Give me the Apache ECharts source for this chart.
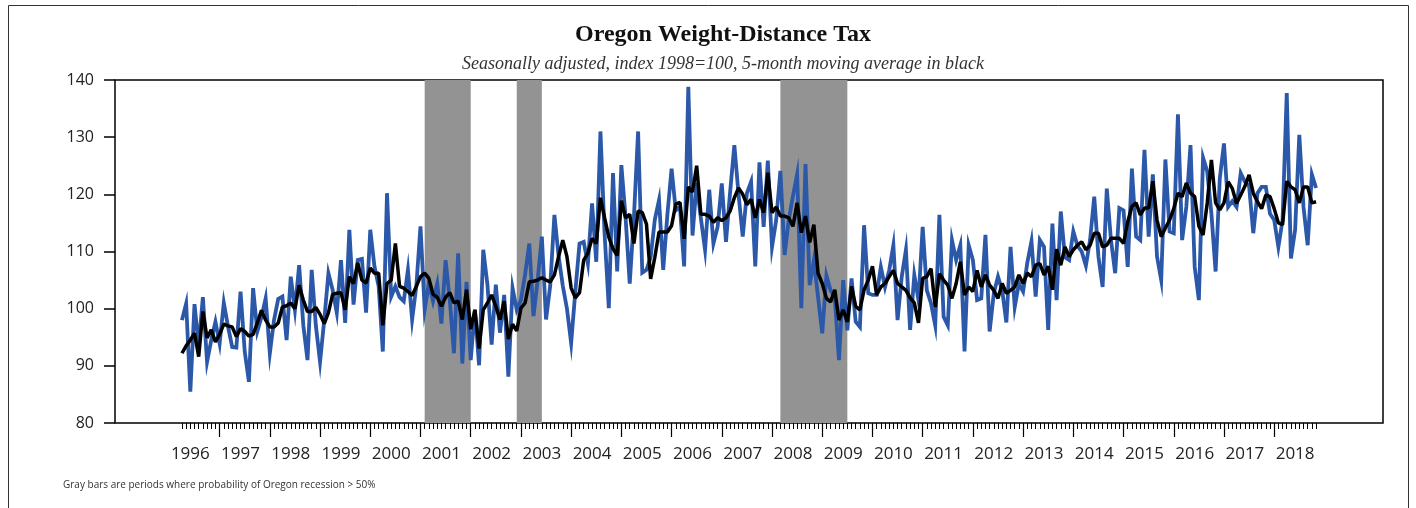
<!DOCTYPE html>
<html>
<head>
<meta charset="utf-8">
<script src="https://cdn.jsdelivr.net/npm/echarts@6/dist/echarts.min.js"></script>
<style>
  html, body { margin: 0; padding: 0; background: #fff; }
  #chart { width: 1416px; height: 508px; }
</style>
</head>
<body>
<div id="chart"></div>
<script>
// monthly index, Apr 1996 .. Nov 2018
var startYear = 1996, startMonth = 4;

var taxIndex = [
  98.0, 100.9, 85.5, 100.8, 93.5, 102.0, 90.7, 94.5, 97.7,
  93.9, 101.0, 96.9, 93.3, 93.2, 103.0, 92.5, 87.2, 103.6, 96.0, 98.5, 101.8,
  92.2, 98.0, 101.7, 102.1, 94.5, 105.6, 99.8, 107.6, 97.1, 91.0, 106.8, 97.0,
  90.7, 98.0, 106.2, 103.3, 99.3, 108.5, 97.5, 113.8, 100.7, 108.5, 108.7, 99.3,
  113.8, 107.4, 103.9, 92.5, 120.2, 102.1, 103.9, 102.0, 101.3, 106.8, 98.1, 103.9,
  114.4, 99.8, 104.4, 101.3, 104.4, 97.4, 108.5, 101.5, 92.2, 109.7, 90.4, 104.7,
  91.0, 99.8, 90.1, 110.3, 104.2, 93.7, 104.2, 95.8, 102.4, 88.1, 103.6, 99.8,
  101.5, 106.0, 111.4, 98.7, 105.0, 112.6, 98.1, 104.0, 116.4, 109.2, 104.0, 100.0,
  94.0, 103.0, 111.4, 111.7, 107.9, 118.4, 108.2, 131.0, 113.0, 100.1, 123.7, 106.5,
  125.1, 116.0, 104.4, 116.0, 131.0, 106.3, 106.8, 109.0, 115.6, 119.0, 106.8, 116.5,
  124.5, 117.2, 117.8, 107.4, 138.8, 112.8, 122.0, 115.8, 110.3, 120.8, 111.4, 114.3,
  121.9, 111.7, 120.5, 128.6, 120.0, 112.6, 120.2, 122.2, 107.4, 125.6, 114.3, 125.9,
  110.8, 115.5, 124.1, 109.4, 115.5, 119.7, 123.5, 100.1, 125.3, 104.1, 108.5, 102.0,
  95.7, 105.8, 103.2, 102.0, 91.0, 105.0, 96.2, 105.3, 97.7, 96.8, 114.6, 102.7,
  102.4, 102.4, 107.3, 103.8, 106.7, 111.1, 98.0, 105.6, 110.3, 96.3, 105.9, 101.5,
  114.3, 103.2, 100.9, 97.1, 116.4, 98.6, 97.1, 112.0, 108.5, 111.1, 92.5, 111.1,
  108.5, 101.5, 101.8, 112.9, 96.0, 102.7, 105.6, 103.2, 97.6, 110.8, 100.3, 104.4,
  103.0, 108.0, 111.8, 102.1, 112.0, 110.8, 96.3, 114.9, 101.5, 117.0, 109.0, 108.5,
  113.5, 111.0, 110.0, 107.5, 112.0, 119.6, 109.1, 103.8, 121.0, 112.0, 106.2, 117.6,
  117.2, 107.3, 124.5, 112.6, 112.0, 127.8, 112.6, 123.5, 109.1, 105.0, 126.1, 113.5,
  113.2, 134.0, 112.0, 117.8, 128.6, 107.3, 101.5, 126.4, 124.0, 116.6, 106.5, 122.8,
  128.9, 117.8, 118.8, 117.8, 123.7, 122.2, 121.5, 113.2, 120.2, 121.3, 121.3, 116.6,
  115.5, 110.8, 115.5, 137.7, 108.8, 113.8, 130.4, 117.8, 111.1, 123.5, 121.1
];

// 5-month moving average (black line)
var movingAvg = [
  92.2, 93.5, 94.5, 95.7, 91.6, 99.5, 94.9, 96.3, 94.2,
  95.5, 97.3, 97.0, 96.8, 95.1, 96.5, 96.0, 95.2, 95.5, 97.5, 99.7, 98.0,
  96.8, 96.8, 97.5, 100.3, 100.5, 101.0, 100.0, 104.1, 101.5, 99.5, 99.5, 100.2,
  99.0, 97.4, 99.3, 102.5, 102.7, 102.8, 99.8, 105.6, 104.4, 108.0, 105.0, 104.5,
  107.1, 106.2, 106.2, 97.1, 104.4, 105.0, 111.4, 103.9, 103.6, 103.0, 102.3, 103.9,
  105.6, 106.2, 105.3, 102.5, 102.0, 100.4, 102.0, 102.8, 101.0, 101.3, 98.1, 103.3,
  96.4, 99.8, 93.0, 99.8, 101.0, 102.4, 100.4, 98.1, 101.3, 94.7, 97.3, 96.1,
  100.1, 101.0, 104.7, 104.8, 105.0, 105.4, 105.0, 104.7, 105.9, 109.1, 112.0, 109.1,
  103.6, 101.9, 102.8, 108.5, 109.7, 112.3, 111.4, 119.4, 115.9, 112.5, 110.5, 109.3,
  118.9, 115.9, 116.5, 111.4, 117.1, 116.8, 114.8, 105.2, 109.0, 113.4, 113.4, 113.4,
  114.5, 118.3, 118.6, 112.2, 121.3, 120.4, 125.0, 116.5, 116.5, 116.2, 115.1, 115.9,
  115.4, 115.9, 117.1, 119.4, 121.1, 120.0, 118.2, 119.1, 115.9, 119.1, 116.8, 123.8,
  116.8, 117.8, 116.2, 116.2, 115.9, 114.4, 118.5, 113.3, 116.2, 111.6, 114.7, 106.2,
  104.4, 101.8, 101.2, 103.3, 98.0, 99.8, 97.7, 103.9, 100.4, 99.8, 103.3, 105.0,
  107.4, 102.4, 103.8, 104.4, 105.6, 106.7, 104.4, 103.8, 103.2, 101.9, 101.0, 97.5,
  105.3, 105.6, 107.0, 100.3, 106.1, 105.0, 104.1, 101.8, 104.4, 108.2, 102.4, 103.8,
  103.0, 106.7, 103.8, 105.9, 104.1, 103.2, 101.8, 104.4, 102.7, 103.2, 103.8, 105.9,
  104.4, 106.2, 105.6, 107.6, 107.9, 105.9, 107.4, 103.3, 110.4, 107.6, 110.8, 109.1,
  110.3, 111.1, 111.7, 110.3, 111.1, 113.2, 113.2, 110.8, 111.1, 112.3, 112.3, 112.3,
  111.4, 115.2, 117.9, 118.5, 116.4, 117.6, 117.6, 122.3, 115.5, 112.6, 114.1, 115.5,
  117.5, 120.2, 119.6, 122.0, 120.2, 119.6, 114.4, 112.9, 118.5, 126.0, 118.5, 117.3,
  118.5, 122.2, 121.0, 118.4, 119.9, 121.4, 123.4, 120.2, 118.7, 117.5, 119.9, 119.6,
  117.5, 115.0, 114.7, 122.3, 121.3, 120.8, 118.5, 121.3, 121.3, 118.5, 118.7
];

// gray bars: periods where probability of Oregon recession > 50%
var recessions = [
  ["2001-02", "2002-01"],
  ["2002-12", "2003-06"],
  ["2008-03", "2009-07"]
];

var yTicks = [80, 90, 100, 110, 120, 130, 140];

var padMonths = 16;

var months = [];
for (var i = 0; i < taxIndex.length; i++) {
  var m = startMonth - 1 + i;
  var yy = startYear + Math.floor(m / 12);
  var mm = (m % 12) + 1;
  months.push(yy + "-" + (mm < 10 ? "0" + mm : mm));
}
var categories = [];
for (var p = 0; p < padMonths; p++) categories.push("a" + p);
categories = categories.concat(months);
for (var q = 0; q < padMonths; q++) categories.push("b" + q);

function isMonth(v) { return /^\d{4}-\d{2}$/.test(v); }

var chart = echarts.init(document.getElementById("chart"), null, { renderer: "canvas" });

var option = {
  backgroundColor: "#fff",
  animation: false,
  grid: {
    left: 115, right: 33, top: 80, bottom: 85,
    show: true, borderColor: "#000", borderWidth: 1.5, backgroundColor: "transparent"
  },
  xAxis: [
    {
      // month ticks + year labels
      type: "category",
      data: categories,
      boundaryGap: false,
      axisLine: { show: false },
      axisTick: {
        show: true, length: 6, lineStyle: { color: "#000", width: 1 },
        interval: function (idx, v) { return isMonth(v); }
      },
      axisLabel: {
        interval: function (idx, v) { return isMonth(v) && v.slice(5) === "06"; },
        formatter: function (v) { return v.slice(0, 4); },
        margin: 23,
        fontFamily: "Open Sans",
        fontSize: 17,
        color: "#222"
      },
      splitLine: { show: false }
    },
    {
      // longer ticks at each January
      type: "category",
      data: categories,
      boundaryGap: false,
      position: "bottom",
      axisLine: { show: false },
      axisTick: {
        show: true, length: 14, lineStyle: { color: "#000", width: 1.2 },
        interval: function (idx, v) { return isMonth(v) && v.slice(5) === "01"; }
      },
      axisLabel: { show: false },
      splitLine: { show: false }
    }
  ],
  yAxis: {
    type: "value",
    min: yTicks[0],
    max: yTicks[yTicks.length - 1],
    interval: 10,
    axisLine: { show: false },
    axisTick: { show: true, length: 11, lineStyle: { color: "#000", width: 1.5 } },
    axisLabel: { margin: 21, fontFamily: "Open Sans", fontSize: 16, color: "#222" },
    splitLine: { show: false }
  },
  series: [
    {
      name: "recession",
      type: "line",
      data: [],
      z: 1,
      markArea: {
        silent: true,
        itemStyle: { color: "#939393", opacity: 1 },
        data: recessions.map(function (r) { return [{ xAxis: r[0] }, { xAxis: r[1] }]; })
      }
    },
    {
      name: "Weight-distance tax",
      type: "line",
      z: 3,
      showSymbol: false,
      data: taxIndex.map(function (v, i) { return [months[i], v]; }),
      lineStyle: { color: "#2B58A8", width: 3.8, join: "miter" },
      itemStyle: { color: "#2B58A8" }
    },
    {
      name: "5-month moving average",
      type: "line",
      z: 4,
      showSymbol: false,
      data: movingAvg.map(function (v, i) { return [months[i], v]; }),
      lineStyle: { color: "#000", width: 3.5 },
      itemStyle: { color: "#000" }
    }
  ],
  graphic: [
    {
      type: "rect", silent: true, z: -1,
      shape: { x: 8.5, y: 5.5, width: 1400, height: 520 },
      style: { fill: null, stroke: "#333", lineWidth: 1 }
    },
    {
      type: "text", x: 723, y: 35,
      style: {
        text: "Oregon Weight-Distance Tax", textAlign: "center", textVerticalAlign: "middle",
        font: "bold 24px 'Liberation Serif'", fill: "#111"
      }
    },
    {
      type: "text", x: 723, y: 64,
      style: {
        text: "Seasonally adjusted, index 1998=100, 5-month moving average in black",
        textAlign: "center", textVerticalAlign: "middle",
        font: "italic 18px 'Liberation Serif'", fill: "#333"
      }
    },
    {
      type: "text", x: 63, y: 485,
      style: {
        text: "Gray bars are periods where probability of Oregon recession > 50%",
        textAlign: "left", textVerticalAlign: "middle",
        font: "10px 'Open Sans'", fill: "#333"
      }
    }
  ]
};

chart.setOption(option);
</script>
</body>
</html>
